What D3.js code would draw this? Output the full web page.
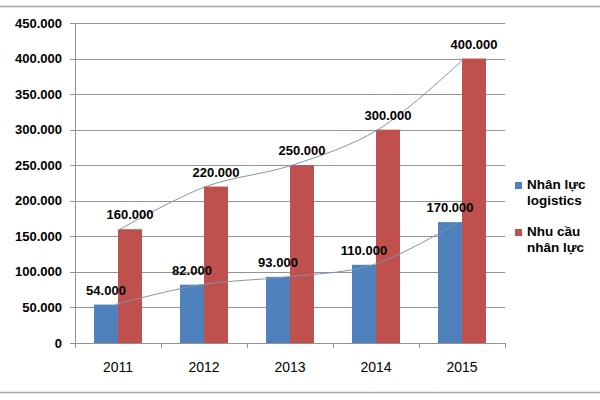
<!DOCTYPE html>
<html><head><meta charset="utf-8">
<script src="https://cdn.jsdelivr.net/npm/d3@7"></script>
<style>body{margin:0;background:#fff}svg{display:block}</style>
</head><body>
<svg id="c" width="600" height="400"></svg>
<script>
const categories = ["2011","2012","2013","2014","2015"];
const logistics = [54000, 82000, 93000, 110000, 170000];
const demand = [160000, 220000, 250000, 300000, 400000];
const seriesNames = [["Nhân lực","logistics"],["Nhu cầu","nhân lực"]];
const yTicks = [0,50000,100000,150000,200000,250000,300000,350000,400000,450000];

const colors = ["#4f81bd","#c0504d"];
const svg = d3.select("#c");
const fmt = v => d3.format(",")(v).replace(/,/g,".");

svg.append("line").attr("x1",0).attr("x2",600).attr("y1",6.5).attr("y2",6.5).attr("stroke","#a6a6a6").attr("stroke-width",1.5);
svg.append("line").attr("x1",0).attr("x2",600).attr("y1",392.5).attr("y2",392.5).attr("stroke","#a6a6a6").attr("stroke-width",1.5);

const x0 = d3.scaleBand().domain(categories).range([75,505]);
const y = d3.scaleLinear().domain([0,450000]).range([343,23]);
const barW = 24;
const off = (x0.bandwidth() - 2*barW)/2;

// grid
svg.append("g").selectAll("line").data(yTicks).join("line")
  .attr("x1",70).attr("x2",505).attr("y1",d=>Math.round(y(d))+0.5).attr("y2",d=>Math.round(y(d))+0.5)
  .attr("stroke","#939393").attr("stroke-width",1);
svg.append("g").selectAll("text").data(yTicks).join("text")
  .attr("x",62).attr("y",d=>y(d)).attr("dy","0.35em").attr("text-anchor","end")
  .attr("font-family","Liberation Sans, Arial, sans-serif").attr("font-weight","bold").attr("font-size",13)
  .text(fmt);
// axes lines
svg.append("line").attr("x1",75.5).attr("x2",75.5).attr("y1",23).attr("y2",343).attr("stroke","#939393");
svg.append("g").selectAll("line").data(d3.range(categories.length+1)).join("line")
  .attr("x1",i=>Math.round(75+i*x0.step())+0.5).attr("x2",i=>Math.round(75+i*x0.step())+0.5)
  .attr("y1",343).attr("y2",348).attr("stroke","#939393");

// bars
const series = [logistics, demand];
series.forEach((vals,s)=>{
  svg.append("g").selectAll("rect").data(vals).join("rect")
    .attr("x",(d,i)=>x0(categories[i])+off+s*barW).attr("width",barW)
    .attr("y",d=>y(d)).attr("height",d=>y(0)-y(d)).attr("fill",colors[s]);
});
// curves
series.forEach((vals,s)=>{
  const line = d3.line().x((d,i)=>x0(categories[i])+x0.bandwidth()/2 + (s===0?-3:2)).y(d=>y(d)).curve(d3.curveCatmullRom);
  svg.append("path").datum(vals).attr("d",line).attr("fill","none").attr("stroke","#8593ad").attr("stroke-width",1);
});
// labels
series.forEach((vals,s)=>{
  svg.append("g").selectAll("text").data(vals).join("text")
    .attr("x",(d,i)=>x0(categories[i])+off+s*barW+barW/2).attr("y",d=>y(d)-10)
    .attr("text-anchor","middle")
    .attr("font-family","Liberation Sans, Arial, sans-serif").attr("font-weight","bold").attr("font-size",13)
    .text(fmt);
});
// x labels
svg.append("g").selectAll("text").data(categories).join("text")
  .attr("x",d=>x0(d)+x0.bandwidth()/2).attr("y",372).attr("text-anchor","middle")
  .attr("font-family","Liberation Sans, Arial, sans-serif").attr("font-size",14).text(d=>d);

// legend
const lg = svg.append("g");
seriesNames.forEach((nm,s)=>{
  const top = 182 + s*47;
  lg.append("rect").attr("x",515).attr("y",top).attr("width",7).attr("height",7).attr("fill",colors[s]);
  nm.forEach((t,j)=>{
    lg.append("text").attr("x",527).attr("y",top+7+j*15.5)
      .attr("font-family","Liberation Sans, Arial, sans-serif").attr("font-weight","bold").attr("font-size",13.5).text(t);
  });
});
</script>
</body></html>
